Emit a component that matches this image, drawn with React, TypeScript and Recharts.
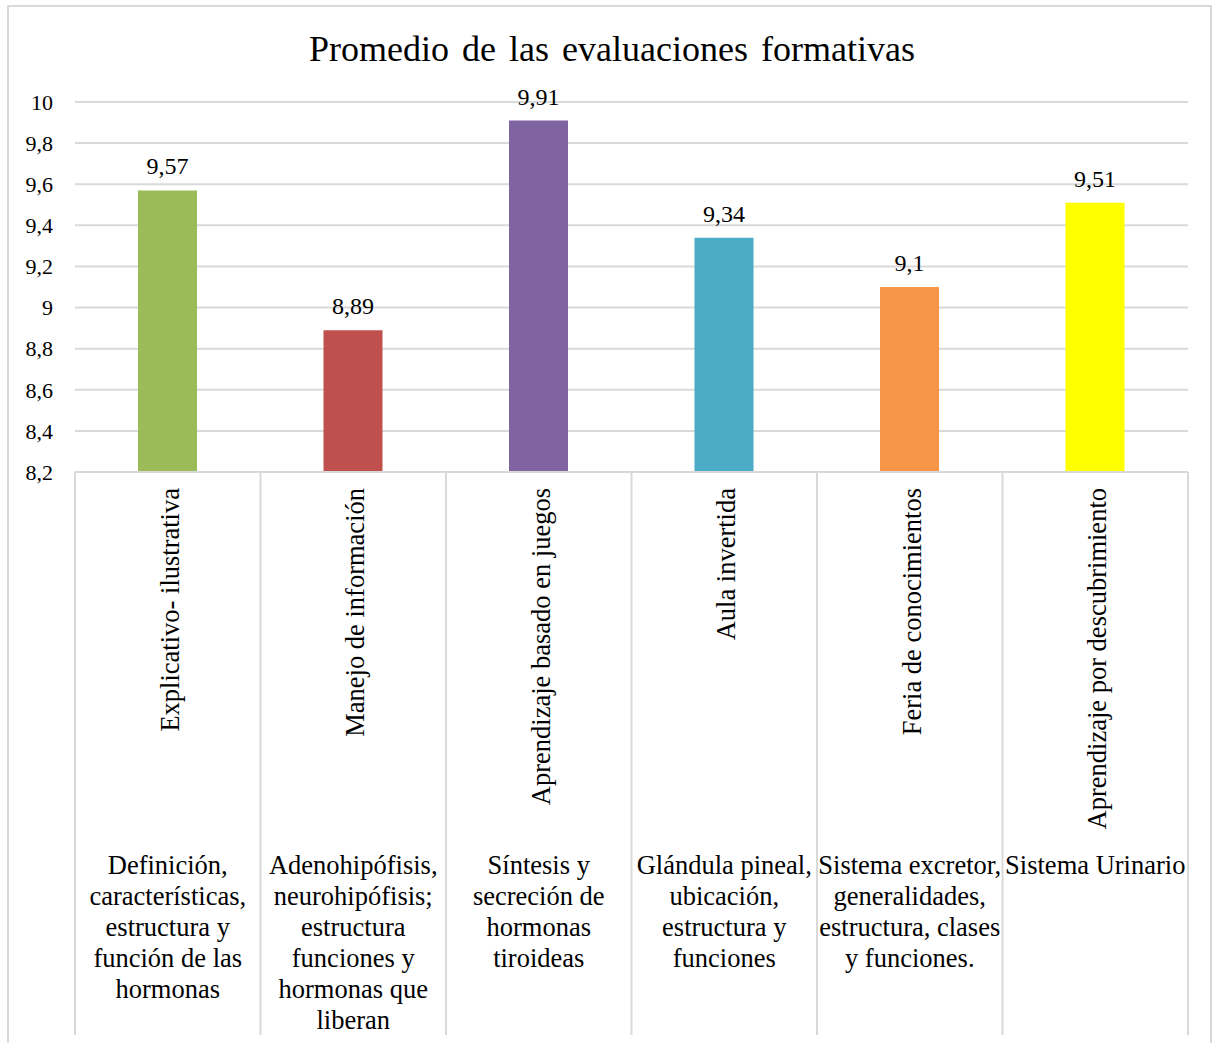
import React from 'react';
import { BarChart, Bar, XAxis, YAxis, CartesianGrid, Cell, LabelList } from 'recharts';

const methods = [
  'Explicativo- ilustrativa',
  'Manejo de información',
  'Aprendizaje basado en juegos',
  'Aula invertida',
  'Feria de conocimientos',
  'Aprendizaje por descubrimiento',
];
const topics: string[][] = [
  ['Definición,', 'características,', 'estructura y', 'función de las', 'hormonas'],
  ['Adenohipófisis,', 'neurohipófisis;', 'estructura', 'funciones y', 'hormonas que', 'liberan'],
  ['Síntesis y', 'secreción de', 'hormonas', 'tiroideas'],
  ['Glándula pineal,', 'ubicación,', 'estructura y', 'funciones'],
  ['Sistema excretor,', 'generalidades,', 'estructura, clases', 'y funciones.'],
  ['Sistema Urinario'],
];
const values = [9.57, 8.89, 9.91, 9.34, 9.1, 9.51];
const colors = ['#9BBB59', '#C0504D', '#8064A2', '#4BACC6', '#F79646', '#FFFF00'];
const yTicks = [8.2, 8.4, 8.6, 8.8, 9, 9.2, 9.4, 9.6, 9.8, 10];

const data = methods.map((m, i) => ({ method: m, value: values[i], idx: i }));

const FONT = '"Liberation Serif", "Times New Roman", serif';
const comma = (v: any) => String(v).replace('.', ',');

const PLOT_LEFT = 75;
const PLOT_RIGHT = 1188;
const BAND = (PLOT_RIGHT - PLOT_LEFT) / methods.length;

const CategoryTick = (props: any) => {
  const { x, y, index, payload } = props;
  const i = typeof index === 'number' ? index : methods.indexOf(payload.value);
  const lines = topics[i] || [];
  const left = x - BAND / 2;
  const right = x + BAND / 2;
  return (
    <g>
      <line x1={left} y1={y} x2={left} y2={y + 563} stroke="#d9d9d9" strokeWidth={2} />
      {i === methods.length - 1 && (
        <line x1={right} y1={y} x2={right} y2={y + 563} stroke="#d9d9d9" strokeWidth={2} />
      )}
      <text
        x={0}
        y={0}
        transform={`translate(${x + 2}, ${y + 16}) rotate(-90)`}
        textAnchor="end"
        dominantBaseline="central"
        fontFamily={FONT}
        fontSize={26.5}
        fill="#000"
      >
        {payload.value}
      </text>
      {lines.map((t, k) => (
        <text
          key={k}
          x={x}
          y={y + 393 + k * 31}
          textAnchor="middle"
          dominantBaseline="central"
          fontFamily={FONT}
          fontSize={26.5}
          fill="#000"
        >
          {t}
        </text>
      ))}
    </g>
  );
};

export default function App() {
  return (
    <div style={{ position: 'absolute', left: 0, top: 0, width: 1213, height: 1043, background: '#fff' }}>
      <div
        style={{
          position: 'absolute',
          left: 7,
          top: 5,
          width: 1205,
          height: 1045,
          border: '2px solid #d9d9d9',
          boxSizing: 'border-box',
        }}
      />
      <div
        style={{
          position: 'absolute',
          left: 0,
          top: 27,
          width: 1224,
          textAlign: 'center',
          fontFamily: FONT,
          fontSize: 36,
          lineHeight: '44px',
          color: '#000',
          wordSpacing: 4,
        }}
      >
        Promedio de las evaluaciones formativas
      </div>
      <div style={{ position: 'absolute', left: 0, top: 0 }}>
        <BarChart
          width={1213}
          height={1043}
          data={data}
          margin={{ top: 102, right: 1213 - PLOT_RIGHT, left: 0, bottom: 0 }}
          barCategoryGap={0}
        >
          <CartesianGrid vertical={false} stroke="#d9d9d9" strokeWidth={2} />
          <YAxis
            width={PLOT_LEFT}
            domain={[8.2, 10]}
            ticks={yTicks}
            interval={0}
            axisLine={false}
            tickLine={false}
            tickFormatter={comma}
            tick={{ fontFamily: FONT, fontSize: 22, fill: '#000', dx: -14 }}
            allowDataOverflow
          />
          <XAxis
            dataKey="method"
            height={571}
            interval={0}
            axisLine={{ stroke: '#d9d9d9', strokeWidth: 2 }}
            tickLine={false}
            tickSize={0}
            tickMargin={0}
            tick={<CategoryTick />}
          />
          <Bar dataKey="value" barSize={59} isAnimationActive={false}>
            {data.map((d, i) => (
              <Cell key={i} fill={colors[i]} />
            ))}
            <LabelList
              dataKey="value"
              position="top"
              offset={16}
              formatter={comma}
              style={{ fontFamily: FONT, fontSize: 24, fill: '#000' }}
            />
          </Bar>
        </BarChart>
      </div>
    </div>
  );
}
